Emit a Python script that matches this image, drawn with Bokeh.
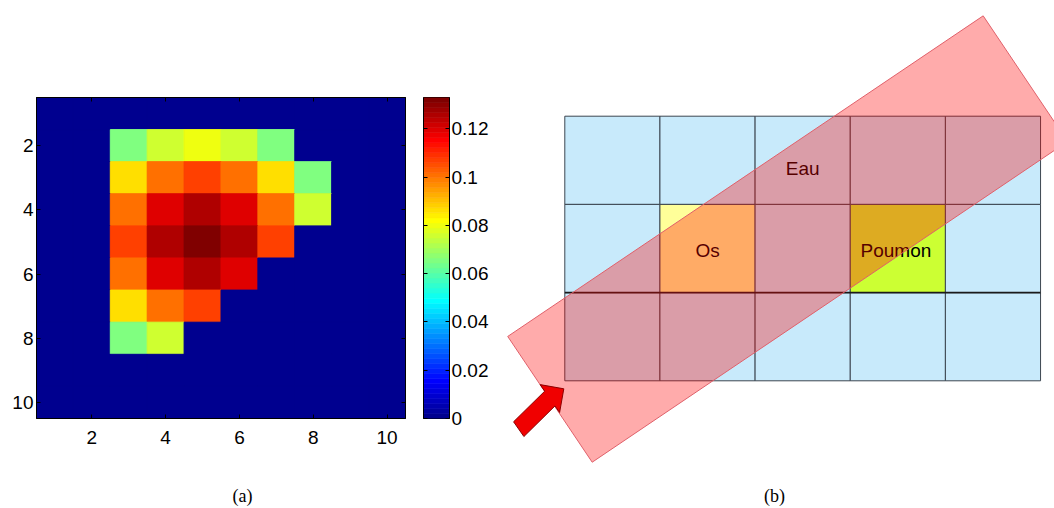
import numpy as np
from bokeh.plotting import figure
from bokeh.layouts import row
from bokeh.models import Range1d, FixedTicker, LinearAxis, LinearColorMapper, ColumnDataSource
from bokeh.transform import transform
from bokeh.core.properties import value
from bokeh.embed import file_html
from bokeh.resources import INLINE

# ---------------- data: panel (a), dose map 10x10 (row 1 at top) ----------------
dose_row_01 = [0, 0, 0,      0,      0,      0,      0,      0,      0, 0]
dose_row_02 = [0, 0, 0.0655, 0.0758, 0.0800, 0.0758, 0.0655, 0,      0, 0]
dose_row_03 = [0, 0, 0.0860, 0.1008, 0.1070, 0.1008, 0.0860, 0.0655, 0, 0]
dose_row_04 = [0, 0, 0.1008, 0.1195, 0.1255, 0.1195, 0.1008, 0.0758, 0, 0]
dose_row_05 = [0, 0, 0.1070, 0.1255, 0.1330, 0.1255, 0.1070, 0,      0, 0]
dose_row_06 = [0, 0, 0.1008, 0.1195, 0.1255, 0.1195, 0,      0,      0, 0]
dose_row_07 = [0, 0, 0.0860, 0.1008, 0.1070, 0,      0,      0,      0, 0]
dose_row_08 = [0, 0, 0.0655, 0.0758, 0,      0,      0,      0,      0, 0]
dose_row_09 = [0, 0, 0,      0,      0,      0,      0,      0,      0, 0]
dose_row_10 = [0, 0, 0,      0,      0,      0,      0,      0,      0, 0]
dose_rows = [dose_row_01, dose_row_02, dose_row_03, dose_row_04, dose_row_05,
             dose_row_06, dose_row_07, dose_row_08, dose_row_09, dose_row_10]
axis_ticks = [2, 4, 6, 8, 10]
cbar_ticks = [0, 0.02, 0.04, 0.06, 0.08, 0.1, 0.12]
cbar_labels = ["0", "0.02", "0.04", "0.06", "0.08", "0.1", "0.12"]
dose_max = 0.1330

# ---------------- data: panel (b), schematic (grid-cell units) ----------------
grid_materials = [["Eau", "Eau", "Eau", "Eau", "Eau"],
                  ["Eau", "Os", "Eau", "Poumon", "Eau"],
                  ["Eau", "Eau", "Eau", "Eau", "Eau"]]
material_colors = {"Eau": "#C8EAFB", "Os": "#FFFF99", "Poumon": "#CCFF33"}
label_text = ["Eau", "Os", "Poumon"]
label_x = [2.5, 1.5, 3.48]
label_y = [0.59, 1.52, 1.52]
beam_x = [-0.600, 4.397, 5.284, 0.288]
beam_y = [2.497, -1.138, 0.287, 3.923]
arrow_x = [-0.0105, -0.2594, -0.2112, -0.5383, -0.4298, -0.1032, -0.0546]
arrow_y = [3.0907, 3.0433, 3.1177, 3.4647, 3.6319, 3.2849, 3.3593]
caption_text = ["(a)", "(b)"]
caption_x = [-3.387, 2.204]
caption_y = [4.310, 4.310]


def jet(n=64):
    out = []
    for i in range(1, n + 1):
        x = i / n
        r = np.clip(min(4 * x - 1.5, -4 * x + 4.5), 0, 1)
        g = np.clip(min(4 * x - 0.5, -4 * x + 3.5), 0, 1)
        b = np.clip(min(4 * x + 0.5, -4 * x + 2.5), 0, 1)
        out.append("#%02x%02x%02x" % (int(round(r * 255)), int(round(g * 255)), int(round(b * 255))))
    return out


palette = jet(64)
mapper = LinearColorMapper(palette=palette, low=0, high=dose_max)

FONT = "Liberation Sans"
FS = "19px"
H = 506


def style_axis(ax, ticks, show_labels, standoff=3):
    ax.ticker = FixedTicker(ticks=ticks, minor_ticks=[])
    ax.major_tick_in = 4
    ax.major_tick_out = 0
    ax.minor_tick_line_color = None
    ax.axis_line_color = "black"
    ax.axis_line_width = 1
    ax.major_tick_line_color = "black"
    ax.major_label_text_font = FONT
    if show_labels:
        ax.major_label_text_color = "black"
        ax.major_label_text_font_size = FS
        ax.major_label_standoff = standoff
    else:
        ax.major_label_text_color = None
        ax.major_label_text_alpha = 0
        ax.major_label_text_font_size = "1px"
        ax.major_label_standoff = 0


# ---------------- figure (a) ----------------
xs, ys, vs = [], [], []
for r, rowvals in enumerate(dose_rows):
    for c, v in enumerate(rowvals):
        xs.append(c + 1)
        ys.append(r + 1)
        vs.append(v)
src = ColumnDataSource(dict(x=xs, y=ys, v=vs))

pa = figure(width=415, height=H, x_range=Range1d(0.5, 10.5), y_range=Range1d(10.5, 0.5),
            toolbar_location=None, output_backend="svg",
            min_border_left=36, min_border_right=10, min_border_top=97, min_border_bottom=H - 418)
pa.background_fill_color = palette[0]
pa.rect(x="x", y="y", width=1, height=1, source=src,
        fill_color=transform("v", mapper), line_color=transform("v", mapper), line_width=1)
pa.grid.visible = False
pa.outline_line_color = "black"
style_axis(pa.xaxis[0], axis_ticks, True, standoff=12)
style_axis(pa.yaxis[0], axis_ticks, True, standoff=3)
top_ax = LinearAxis()
right_ax = LinearAxis()
style_axis(top_ax, axis_ticks, False)
style_axis(right_ax, axis_ticks, False)
pa.add_layout(top_ax, "above")
pa.add_layout(right_ax, "right")

# ---------------- colorbar ----------------
pc = figure(width=85, height=H, x_range=Range1d(0, 1), y_range=Range1d(0, dose_max),
            toolbar_location=None, output_backend="svg",
            min_border_left=8, min_border_right=51, min_border_top=97, min_border_bottom=H - 418,
            y_axis_location="right")
edges = np.linspace(0, dose_max, len(palette) + 1)
pc.quad(left=0, right=1, bottom=edges[:-1], top=edges[1:], fill_color=palette,
        line_color=palette, line_width=0.6)
pc.grid.visible = False
pc.outline_line_color = "black"
pc.xaxis.visible = False
style_axis(pc.yaxis[0], cbar_ticks, True, standoff=2)
pc.yaxis[0].major_label_overrides = {t: l for t, l in zip(cbar_ticks, cbar_labels)}
left_cb = LinearAxis()
style_axis(left_cb, cbar_ticks, False)
pc.add_layout(left_cb, "left")

# ---------------- figure (b): transparent overlay spanning the page ----------------
pb = figure(width=1054, height=H, x_range=Range1d(-5.9306, 5.1466), y_range=Range1d(4.4251, -1.3118),
            toolbar_location=None, output_backend="svg", x_axis_location=None, y_axis_location=None,
            min_border=0)
pb.styles = {"position": "absolute", "left": "0px", "top": "0px"}
pb.outline_line_color = None
pb.background_fill_alpha = 0
pb.border_fill_alpha = 0
pb.grid.visible = False
n_rows = len(grid_materials)
n_cols = len(grid_materials[0])
cl, cr, ct, cbm, cc = [], [], [], [], []
for r in range(n_rows):
    for c in range(n_cols):
        cl.append(c)
        cr.append(c + 1)
        ct.append(r)
        cbm.append(r + 1)
        cc.append(material_colors[grid_materials[r][c]])
pb.quad(left=cl, right=cr, top=ct, bottom=cbm, fill_color=cc, line_color="#3C4650", line_width=1)
pb.segment(x0=[0], y0=[2], x1=[n_cols], y1=[2], line_color="#1A1A1A", line_width=1.8)
pb.text(x=label_x, y=label_y, text=label_text, text_align="center", text_baseline="middle",
        text_font=value(FONT), text_font_size=FS, text_color="black")
pb.patch(beam_x, beam_y, fill_color="#FF0000", fill_alpha=0.33, line_color="#E0606A", line_width=1)
pb.patch(arrow_x, arrow_y, fill_color="#F00000", line_color="#8B0000", line_width=1)
pb.text(x=caption_x, y=caption_y, text=caption_text, text_align="center", text_baseline="middle",
        text_font=value("Liberation Serif"), text_font_size="18px", text_color="black")

open("out.html", "w").write(file_html([row(pa, pc), pb], INLINE))
